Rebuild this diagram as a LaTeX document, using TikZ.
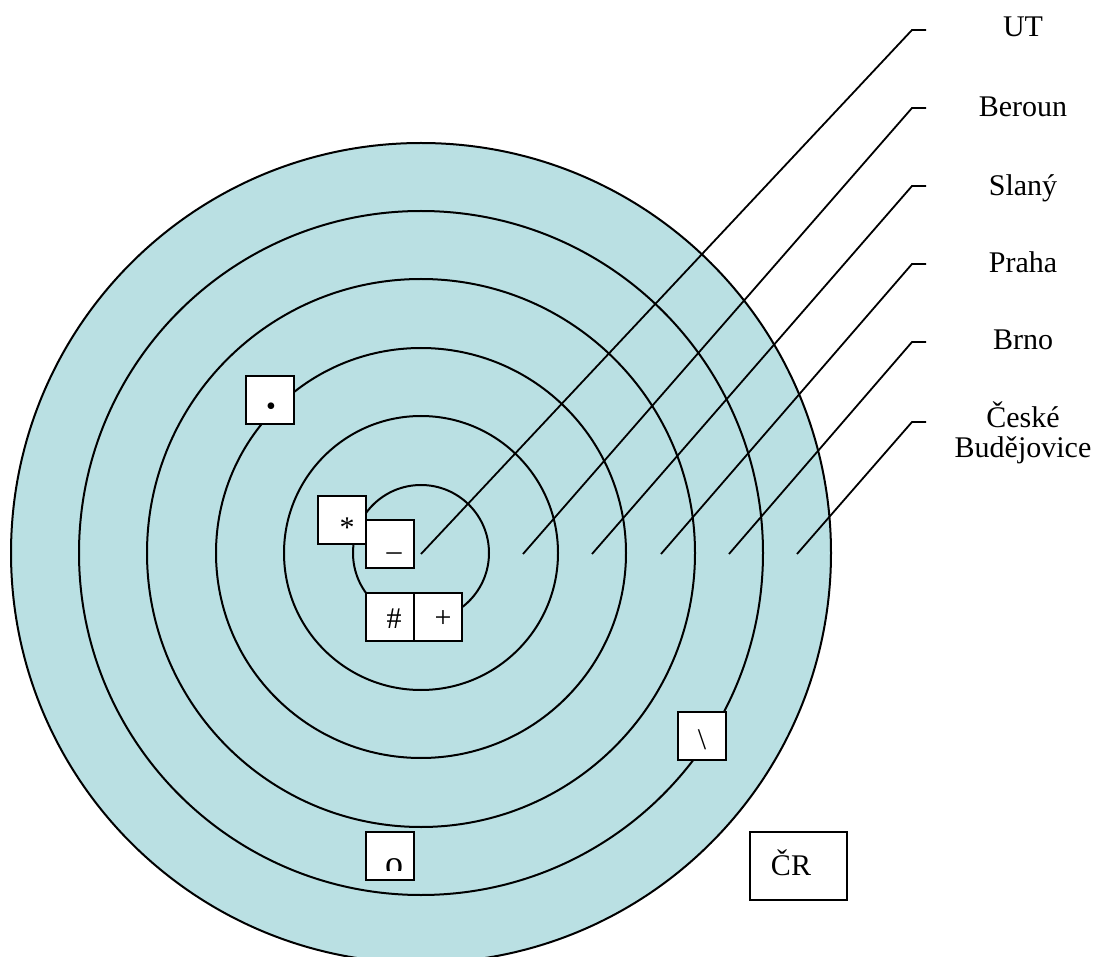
\documentclass[tikz,border=0pt]{standalone}
\usepackage{fontspec}
\setmainfont{Liberation Serif}
\definecolor{seablue}{RGB}{186,224,227}
\tikzset{
  ring/.style={draw=black, line width=2pt},
  leader/.style={draw=black, line width=1.8pt},
  tag/.style={draw=black, fill=white, line width=2pt, minimum width=48pt, minimum height=48pt, inner sep=0pt},
  glyph/.style={inner sep=0pt, font=\fontsize{30}{30}\selectfont},
  place/.style={anchor=base, inner sep=0pt, align=center, font=\fontsize{30}{30}\selectfont}
}
\begin{document}
\begin{tikzpicture}[x=1pt,y=-1pt]
\useasboundingbox (0,0) rectangle (1101,957);
\clip (0,0) rectangle (1101,957);

% concentric zones
\coordinate (O) at (421,553);
\fill[seablue] (O) circle[radius=410pt];
\foreach \r in {68,137,205,274,342,410}
  \draw[ring] (O) circle[radius=\r pt];

% zone names
\node[place] (ut)  at (1023,37)  {UT};
\node[place] (ber) at (1023,117) {Beroun};
\node[place] (sla) at (1023,196) {Slaný};
\node[place] (pra) at (1023,273) {Praha};
\node[place] (brn) at (1023,350) {Brno};
\node[place] (cb1) at (1023,428) {České};
\node[place] (cb2) at (1023,458) {Budějovice};

% leader lines from each zone to its name
\foreach \n/\sx/\cy in {ut/421/30, ber/523/108, sla/592/186, pra/661/264, brn/729/342, cb1/797/422}{
  \coordinate (s\n) at (\sx,554);
  \coordinate (k\n) at (912,\cy);
  \coordinate (e\n) at (926,\cy);
  \draw[leader] (s\n) -- (k\n) -- (e\n);
}

% markers
\node[tag] (bdot)  at (270,400) {};
\node[glyph, font=\fontsize{28}{28}\selectfont] (gdot) at (271,409) {•};
\node[tag] (bstar) at (342,520) {};
\node[glyph] (gstar) at (347,528) {*};
\node[tag] (bdash) at (390,544) {};
\node[glyph] (gdash) at (394,557) {–};
\node[tag] (bhash) at (390,616.5) {};
\node[glyph] (ghash) at (394,619) {\#};
\node[tag] (bplus) at (438,616.5) {};
\node[glyph] (gplus) at (443,619) {+};
\node[tag] (bbs)   at (702,736) {};
\node[glyph] (gbs)   at (702,740) {\textbackslash};
\node[tag] (bomi)  at (390,856) {};
\begin{scope}
  \clip (366,832) rectangle (414,870);
  \node[glyph, font=\fontsize{36}{36}\selectfont] (gomi) at (394,867) {ο};
\end{scope}
\node[tag, minimum width=97pt, minimum height=68pt] (bcr) at (798.5,866) {};
\node[glyph] (gcr) at (791,862.5) {ČR};
\end{tikzpicture}
\end{document}
